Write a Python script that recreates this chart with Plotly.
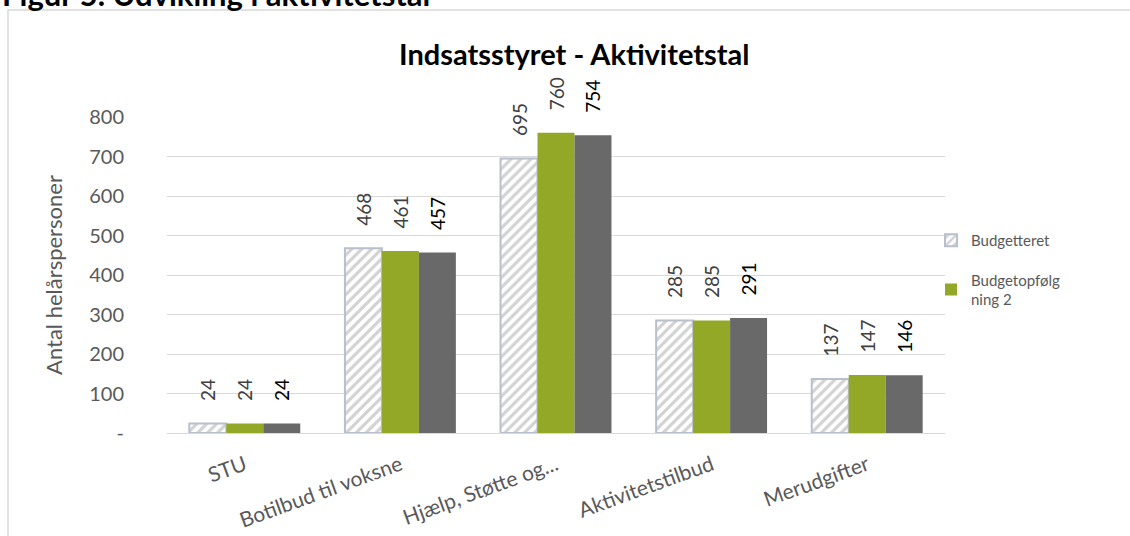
import plotly.graph_objects as go

categories = ["STU", "Botilbud til voksne", "Hjælp, Støtte og...", "Aktivitetstilbud", "Merudgifter"]
budgetteret = [24, 468, 695, 285, 137]
budgetopfoelgning2 = [24, 461, 760, 285, 147]
serie3 = [24, 457, 754, 291, 146]
series_names = ["Budgetteret", "Budgetopfølg<br>ning 2", "Serie 3"]
y_tickvals = [0, 100, 200, 300, 400, 500, 600, 700, 800]
y_ticktext = ["-", "100", "200", "300", "400", "500", "600", "700", "800"]

FONT = "Lato"
W, H = 1130, 536
L, R, T, B = 167, 185, 117, 103
PW, PH = W - L - R, H - T - B


def px_x(px):
    return (px - L) / PW


def px_y(py):
    return (H - B - py) / PH


pad = "\u00a0" * 4

fig = go.Figure()
fig.add_trace(go.Bar(
    x=categories, y=budgetteret, name=series_names[0], legendgroup="a",
    marker=dict(color="white", line=dict(color="#b7c0cc", width=2),
                pattern=dict(shape="/", fgcolor="#a6a6a6", bgcolor="white", size=7, solidity=0.45)),
    text=[pad + str(v) for v in budgetteret], textposition="outside", textangle=-90,
    textfont=dict(family=FONT, size=19, color="#404040"), cliponaxis=False, constraintext="none",
))
fig.add_trace(go.Bar(
    x=categories, y=budgetopfoelgning2, name=series_names[1], legendgroup="b",
    marker=dict(color="#93a826", line=dict(width=0)),
    text=[pad + str(v) for v in budgetopfoelgning2], textposition="outside", textangle=-90,
    textfont=dict(family=FONT, size=19, color="#404040"), cliponaxis=False, constraintext="none",
))
fig.add_trace(go.Bar(
    x=categories, y=serie3, name=series_names[2], showlegend=False, legendgroup="c",
    marker=dict(color="#696969", line=dict(width=0)),
    text=[pad + str(v) for v in serie3], textposition="outside", textangle=-90,
    textfont=dict(family=FONT, size=19, color="#000000"), cliponaxis=False, constraintext="none",
))

fig.update_layout(
    width=W, height=H,
    margin=dict(l=L, r=R, t=T, b=B, autoexpand=False),
    paper_bgcolor="white", plot_bgcolor="white",
    barmode="group", bargap=0.287, bargroupgap=0,
    font=dict(family=FONT, color="#595959"),
    showlegend=True,
    legend=dict(x=px_x(931), y=px_y(224), xanchor="left", yanchor="top",
                traceorder="grouped", tracegroupgap=17,
                font=dict(family=FONT, size=15, color="#595959"),
                itemwidth=30, bgcolor="rgba(0,0,0,0)"),
    xaxis=dict(type="category", showgrid=False, showline=False, ticks="",
               tickangle=-20, ticklabelstandoff=15,
               tickfont=dict(family=FONT, size=21, color="#595959")),
    yaxis=dict(range=[0, 800], tickvals=y_tickvals, ticktext=y_ticktext,
               showgrid=True, gridcolor="#d9d9d9", gridwidth=1,
               zeroline=True, zerolinecolor="#d9d9d9", zerolinewidth=1,
               showline=False, ticks="", ticklabelstandoff=42,
               tickfont=dict(family=FONT, size=20, color="#595959"),
               title=dict(text="Antal helårspersoner", standoff=20,
                          font=dict(family=FONT, size=22, color="#595959"))),
    shapes=[dict(type="rect", xref="paper", yref="paper",
                 x0=px_x(8), x1=px_x(1140), y0=px_y(560), y1=px_y(10),
                 line=dict(color="#d9d9d9", width=1.5), fillcolor="rgba(0,0,0,0)", layer="below")],
    annotations=[
        dict(text="<b>Indsatsstyret - Aktivitetstal</b>", xref="paper", yref="paper",
             x=px_x(574), y=px_y(53), xanchor="center", yanchor="middle", showarrow=False,
             font=dict(family=FONT, size=29, color="#000000")),
        dict(text="<b>Figur 5. Udvikling i aktivitetstal</b>", xref="paper", yref="paper",
             x=px_x(0), y=px_y(15), xanchor="left", yanchor="bottom", showarrow=False,
             font=dict(family=FONT, size=31, color="#000000")),
    ],
)

fig.write_html("out.html", config={"displayModeBar": False},
               post_script="document.body.style.margin='0';document.body.style.overflow='hidden';")
